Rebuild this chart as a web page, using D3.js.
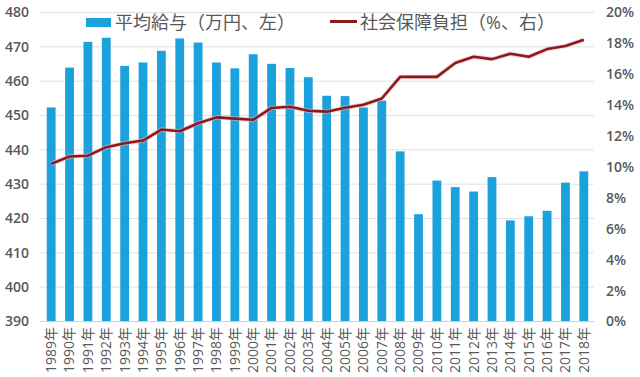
<!DOCTYPE html>
<html><head><meta charset="utf-8">
<script src="https://cdn.jsdelivr.net/npm/d3@7"></script>
<style>
body{margin:0;background:#fff;}
svg{display:block;}
text{font-family:"Open Sans","Noto Sans CJK JP",sans-serif;}
</style></head>
<body><svg id="c" width="640" height="377"></svg>
<script>
const years = ["1989年","1990年","1991年","1992年","1993年","1994年","1995年","1996年","1997年","1998年","1999年","2000年","2001年","2002年","2003年","2004年","2005年","2006年","2007年","2008年","2009年","2010年","2011年","2012年","2013年","2014年","2015年","2016年","2017年","2018年"];
const salary = [452.2,463.8,471.3,472.5,464.3,465.3,468.7,472.3,471.1,465.3,463.6,467.7,464.9,463.7,461.0,455.6,455.5,452.2,454.2,439.4,421.1,430.9,429.0,427.7,431.9,419.3,420.5,422.1,430.3,433.6];
const burden = [10.17,10.65,10.7,11.25,11.5,11.68,12.39,12.28,12.8,13.18,13.1,13.03,13.79,13.87,13.61,13.55,13.8,14.0,14.4,15.8,15.8,15.8,16.7,17.1,16.95,17.3,17.1,17.6,17.8,18.2];
const leftTicks = [390,400,410,420,430,440,450,460,470,480];
const rightTicks = [0,2,4,6,8,10,12,14,16,18,20];
const legendLabels = ["平均給与（万円、左）","社会保障負担（%、右）"];

const svg = d3.select("#c");
const x = d3.scaleBand().domain(years).range([42,593]).paddingInner(0.52).paddingOuter(0.26);
const yL = d3.scaleLinear().domain([390,480]).range([321,12]);
const yR = d3.scaleLinear().domain([0,20]).range([321,12]);

// gridlines
svg.append("g").selectAll("line").data(leftTicks).join("line")
  .attr("x1",40).attr("x2",594)
  .attr("y1",d=>yL(d)+0.5).attr("y2",d=>yL(d)+0.5)
  .attr("stroke",d=>d===390?"#d0d0d0":"#e0e0e0").attr("stroke-width",1);

// bars
svg.append("g").selectAll("rect").data(salary).join("rect")
  .attr("x",(d,i)=>x(years[i])).attr("width",x.bandwidth())
  .attr("y",d=>yL(d)).attr("height",d=>yL(390)-yL(d))
  .attr("fill","#1ba1db");

// line
const line = d3.line().x((d,i)=>x(years[i])+x.bandwidth()/2).y(d=>yR(d));
svg.append("path").datum(burden).attr("d",line).attr("fill","none")
  .attr("stroke","#f2b8b8").attr("stroke-width",4.5).attr("stroke-linejoin","round").attr("opacity",0.6);
svg.append("path").datum(burden).attr("d",line).attr("fill","none")
  .attr("stroke","#8b1a1f").attr("stroke-width",2.6).attr("stroke-linejoin","round");

// left axis
const axL = d3.axisLeft(yL).tickValues(leftTicks).tickSize(0).tickPadding(0);
const gL = svg.append("g").attr("transform","translate(29,0)").call(axL);
gL.select(".domain").remove();
gL.selectAll("text").attr("font-size",14).attr("font-weight","600").attr("fill","#595959").attr("dy","0.35em");

// right axis
const axR = d3.axisRight(yR).tickValues(rightTicks).tickSize(0).tickPadding(0).tickFormat(d=>d+"%");
const gR = svg.append("g").attr("transform","translate(606,0)").call(axR);
gR.select(".domain").remove();
gR.selectAll("text").attr("font-size",14).attr("font-weight","600").attr("fill","#595959").attr("dy","0.35em");

// x axis rotated labels
const axX = d3.axisBottom(x).tickSize(0).tickPadding(0);
const gX = svg.append("g").attr("transform","translate(0,327)").call(axX);
gX.select(".domain").remove();
gX.selectAll("text").attr("font-size",14).attr("fill","#595959")
  .attr("font-family","'Noto Sans CJK JP',sans-serif")
  .attr("transform","rotate(-90)").attr("text-anchor","end")
  .attr("x",0).attr("y",0).attr("dy","0.35em").attr("dx",0);

// legend
const lg = svg.append("g");
lg.append("rect").attr("x",115).attr("y",14).attr("width",440).attr("height",22).attr("fill","#fff");
lg.append("rect").attr("x",86).attr("y",18).attr("width",25).attr("height",9).attr("fill","#1ba1db");
lg.append("text").attr("x",115).attr("y",29).attr("font-size",18).attr("fill","#595959")
  .attr("font-family","'Noto Sans CJK JP',sans-serif").text(legendLabels[0]);
lg.append("line").attr("x1",330).attr("x2",357).attr("y1",21.5).attr("y2",21.5).attr("stroke","#8b1a1f").attr("stroke-width",3);
lg.append("text").attr("x",360).attr("y",29).attr("font-size",18).attr("fill","#595959")
  .attr("font-family","'Noto Sans CJK JP',sans-serif").text(legendLabels[1]);
</script></body></html>
